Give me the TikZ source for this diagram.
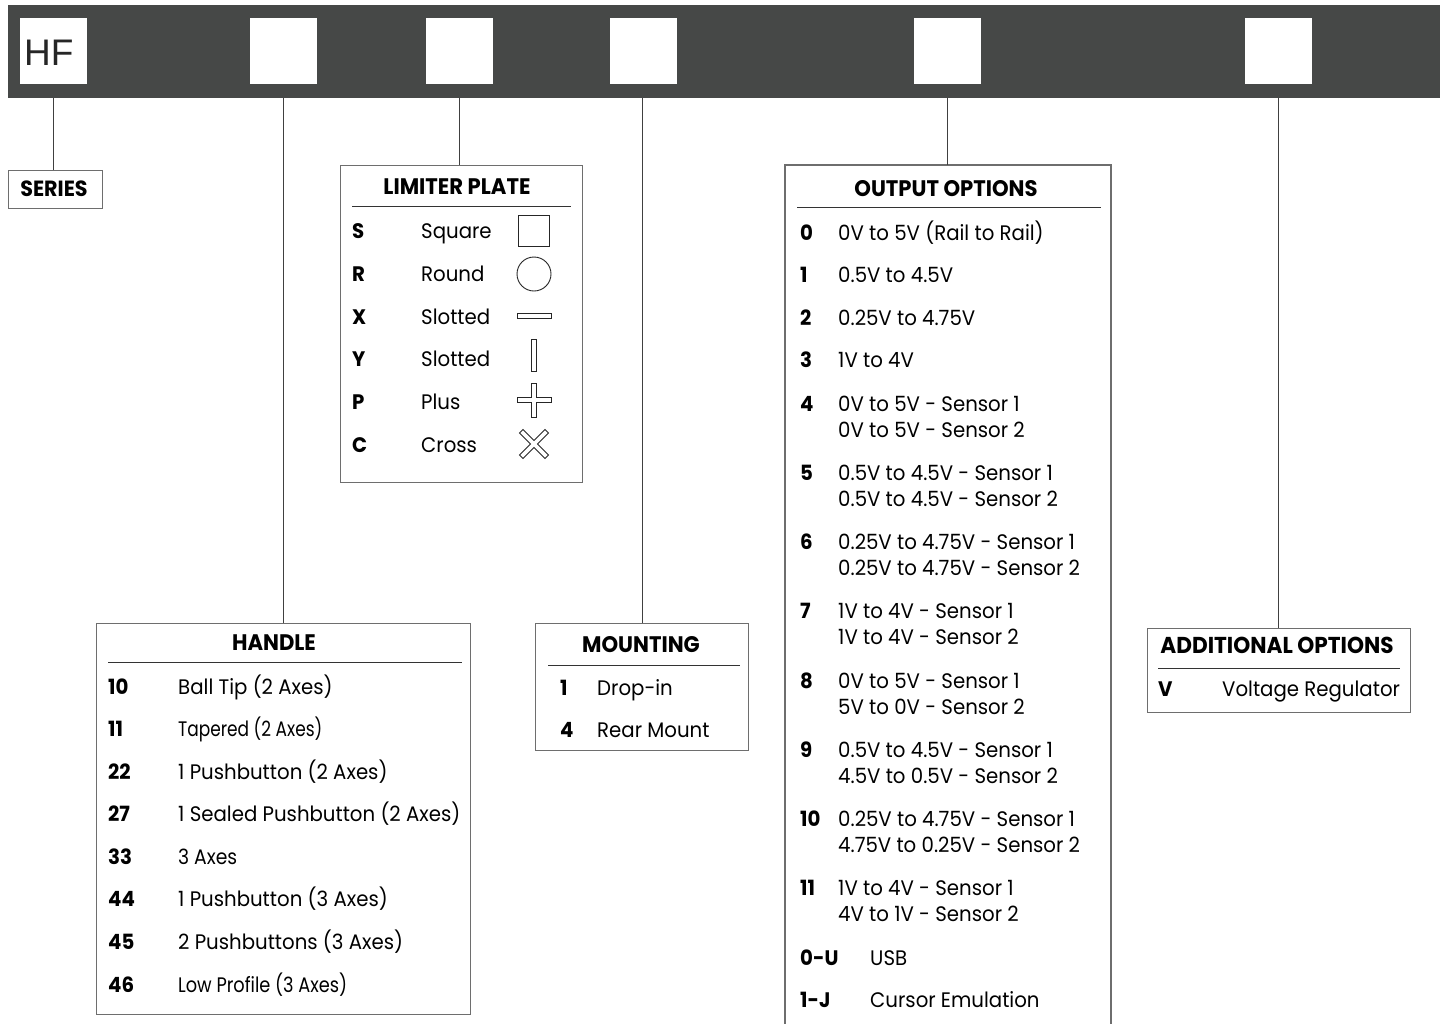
\documentclass[tikz,border=0pt]{standalone}
\usepackage{fontspec}
\usepackage{graphicx}
\setmainfont{Poppins}[FakeStretch=0.94]
\newfontfamily\hffont{Liberation Sans}
\usetikzlibrary{calc}
\definecolor{bar}{HTML}{464847}
\definecolor{boxgray}{HTML}{6E6E6E}
\tikzset{
  slot/.style={fill=white,draw=none,minimum width=67pt,minimum height=66pt,inner sep=0pt},
  optbox/.style={draw=boxgray,line width=1.1pt,anchor=north west,inner sep=0pt,fill=white},
  conn/.style={draw=black!75,line width=1pt},
  hdr/.style={anchor=base,inner sep=0pt,font=\fontsize{22.5}{26}\selectfont\bfseries},
  key/.style={anchor=base west,inner sep=0pt,font=\fontsize{21}{26}\selectfont\bfseries},
  txt/.style={anchor=base west,inner sep=0pt,font=\fontsize{21}{26}\selectfont},
  rule/.style={draw=black!80,line width=0.9pt},
  icon/.style={draw=black!85,line width=0.9pt,fill=white},
}
\begin{document}
\begin{tikzpicture}[x=1pt,y=-1pt]
\useasboundingbox (0,0) rectangle (1440,1023);
\fill[white] (0,0) rectangle (1440,1023);
% bar
\node[fill=bar,inner sep=0pt,minimum width=1432pt,minimum height=93pt,anchor=north west] (bar) at (8,5) {};
\node[slot] (sq1) at (53.5,51) {};
\node[slot] (sq2) at (283.5,51) {};
\node[slot] (sq3) at (459.5,51) {};
\node[slot] (sq4) at (643.5,51) {};
\node[slot] (sq5) at (947.5,51) {};
\node[slot] (sq6) at (1278.5,51) {};
\node[anchor=base west,inner sep=0pt,font=\fontsize{37}{40}\hffont,text=black!85] (hf) at (24,65) {HF};

% boxes
\node[optbox,minimum width=94pt,minimum height=38pt] (series) at (8,170) {};
\node[optbox,minimum width=374pt,minimum height=391pt] (handle) at (96,623) {};
\node[optbox,minimum width=242pt,minimum height=317pt] (limiter) at (340,165) {};
\node[optbox,minimum width=213pt,minimum height=127pt] (mount) at (535,623) {};
\node[optbox,minimum width=263pt,minimum height=84pt] (addl) at (1147,628) {};
\coordinate (outTL) at (785,165);
\coordinate (outTR) at (1111,165);
\coordinate (outBL) at (785,1030);
\coordinate (outBR) at (1111,1030);
\fill[white] (outTL) rectangle (outBR);
\draw[draw=boxgray,line width=1.1pt] (outBL) -- (outTL) -- (outTR) -- (outBR);

% connectors
\draw[conn] (sq1 |- bar.south) -- (series.north -| sq1);
\draw[conn] (sq2 |- bar.south) -- (handle.north -| sq2);
\draw[conn] (sq3 |- bar.south) -- (limiter.north -| sq3);
\draw[conn] (mount.north |- bar.south) -- (mount.north);
\draw[conn] (sq5 |- bar.south) -- (outTL -| sq5);
\draw[conn] (sq6 |- bar.south) -- (addl.north -| sq6);

% SERIES
\node[hdr,font=\fontsize{22}{26}\selectfont\bfseries] (seriesT) at (54,196) {SERIES};

% LIMITER PLATE
\node[hdr] (limH) at (457,194) {LIMITER PLATE};
\draw[rule] (352,206) -- (571,206);
\foreach \k/\t/\y [count=\i] in {S/Square/238,R/Round/281,X/Slotted/324,Y/Slotted/366,P/Plus/409,C/Cross/452}{
  \node[key] (limK\i) at (352,\y) {\k};
  \node[txt] (limT\i) at (421,\y) {\t};
}
% icons
\draw[icon] (518,215) rectangle (549,246);
\draw[icon] (534,274) circle (17);
\draw[icon] (517,313) rectangle (551,318);
\draw[icon] (531,339) rectangle (536,371);
\draw[icon] (531.5,383) -- (536.5,383) -- (536.5,397.5) -- (551,397.5) -- (551,402.5) -- (536.5,402.5) -- (536.5,417) -- (531.5,417) -- (531.5,402.5) -- (517,402.5) -- (517,397.5) -- (531.5,397.5) -- cycle;
\begin{scope}[shift={(534,444)},rotate=45]
\draw[icon] (-2.5,-18) -- (2.5,-18) -- (2.5,-2.5) -- (18,-2.5) -- (18,2.5) -- (2.5,2.5) -- (2.5,18) -- (-2.5,18) -- (-2.5,2.5) -- (-18,2.5) -- (-18,-2.5) -- (-2.5,-2.5) -- cycle;
\end{scope}

% OUTPUT OPTIONS
\node[hdr] (outH) at (946,196) {OUTPUT OPTIONS};
\draw[rule] (797,207) -- (1101,207);
\foreach \k/\t/\y [count=\i] in {
  0/{0V to 5V (Rail to Rail)}/240,
  1/{0.5V to 4.5V}/282,
  2/{0.25V to 4.75V}/325,
  3/{1V to 4V}/367}{
  \node[key] (outK\i) at (800,\y) {\k};
  \node[txt] (outT\i) at (838,\y) {\t};
}
\foreach \k/\ta/\tb/\y [count=\i from 5] in {
  4/{0V to 5V - Sensor 1}/{0V to 5V - Sensor 2}/411,
  5/{0.5V to 4.5V - Sensor 1}/{0.5V to 4.5V - Sensor 2}/480,
  6/{0.25V to 4.75V - Sensor 1}/{0.25V to 4.75V - Sensor 2}/549,
  7/{1V to 4V - Sensor 1}/{1V to 4V - Sensor 2}/618,
  8/{0V to 5V - Sensor 1}/{5V to 0V - Sensor 2}/688,
  9/{0.5V to 4.5V - Sensor 1}/{4.5V to 0.5V - Sensor 2}/757,
  10/{0.25V to 4.75V - Sensor 1}/{4.75V to 0.25V - Sensor 2}/826,
  11/{1V to 4V - Sensor 1}/{4V to 1V - Sensor 2}/895}{
  \node[key] (outK\i) at (800,\y) {\k};
  \node[txt] (outTa\i) at (838,\y) {\ta};
  \node[txt] (outTb\i) at (838,\y+26.5) {\tb};
}
\node[key] (outK13) at (800,965) {0-U};
\node[txt] (outT13) at (870,965) {USB};
\node[key] (outK14) at (800,1007) {1-J};
\node[txt] (outT14) at (870,1007) {Cursor Emulation};

% HANDLE
\node[hdr] (hanH) at (274,650) {HANDLE};
\draw[rule] (108,662) -- (462,662);
\foreach \k/\t/\y [count=\i] in {
  10/{Ball Tip (2 Axes)}/694,
  11/{\scalebox{0.86}[1]{Tapered (2 Axes)}}/736,
  22/{1 Pushbutton (2 Axes)}/779,
  27/{1 Sealed Pushbutton (2 Axes)}/821,
  33/{\scalebox{0.95}[1]{3 Axes}}/864,
  44/{1 Pushbutton (3 Axes)}/906,
  45/{2 Pushbuttons (3 Axes)}/949,
  46/{\scalebox{0.9}[1]{Low Profile (3 Axes)}}/992}{
  \node[key] (hanK\i) at (108,\y) {\k};
  \node[txt] (hanT\i) at (178,\y) {\t};
}

% MOUNTING
\node[hdr] (mntH) at (641,652) {MOUNTING};
\draw[rule] (548,665) -- (740,665);
\node[key] (mntK1) at (560,695) {1};
\node[txt] (mntT1) at (597,695) {Drop-in};
\node[key] (mntK2) at (560,737) {4};
\node[txt] (mntT2) at (597,737) {Rear Mount};

% ADDITIONAL OPTIONS
\node[hdr,font=\fontsize{23}{26}\selectfont\bfseries] (addH) at (1277,653) {ADDITIONAL OPTIONS};
\draw[rule] (1158,668) -- (1400,668);
\node[key] (addK1) at (1158,696) {V};
\node[txt] (addT1) at (1222,696) {Voltage Regulator};
\end{tikzpicture}
\end{document}
